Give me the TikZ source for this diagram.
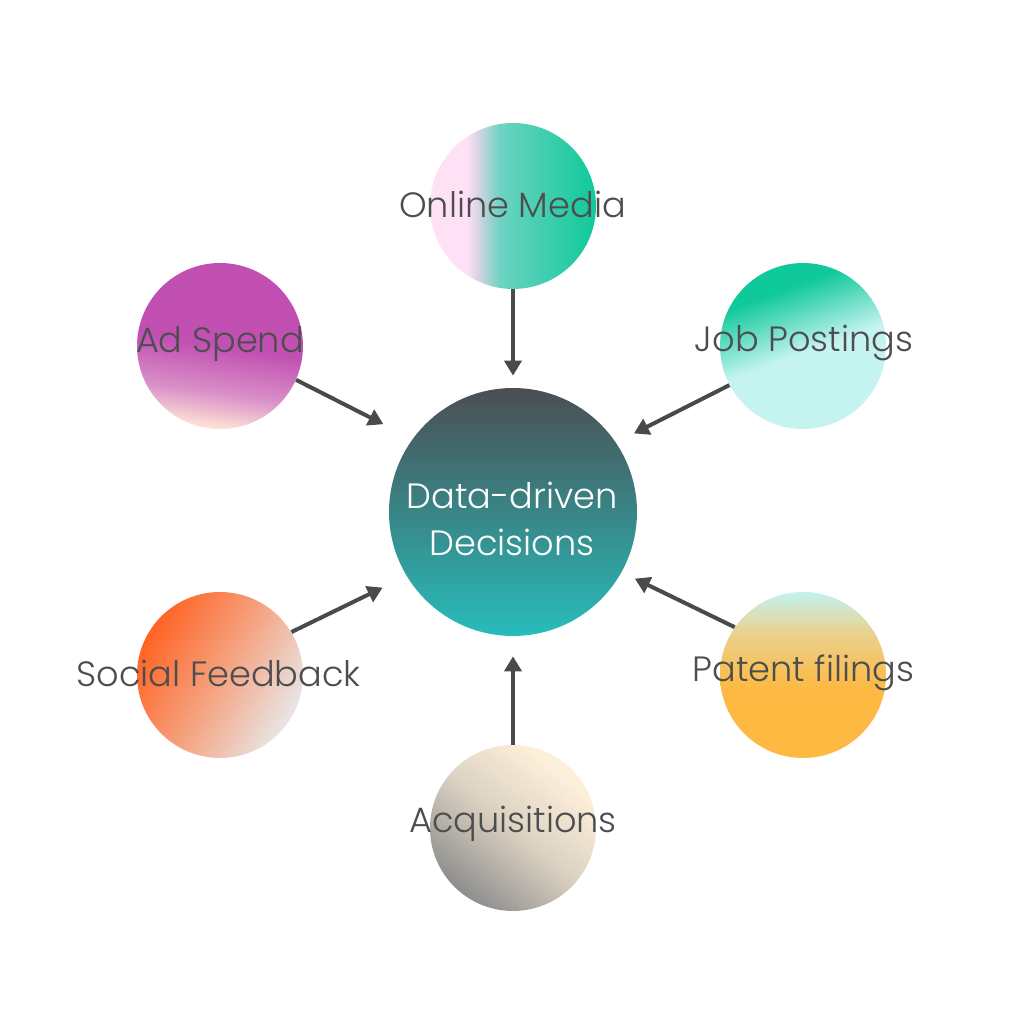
\documentclass[tikz,border=0pt]{standalone}
\usepackage{fontspec}
\setmainfont{Poppins}[UprightFont={* Light}]
\usetikzlibrary{arrows.meta}
\definecolor{txt}{HTML}{4D4D4F}
\definecolor{arrc}{HTML}{4A4A4C}
\definecolor{ddTop}{HTML}{4B4E52}
\definecolor{ddBot}{HTML}{27BDBB}
\definecolor{omPink}{HTML}{FFE1F5}
\definecolor{omMid}{HTML}{CFD3E0}
\definecolor{omTeal}{HTML}{6CD3C2}
\definecolor{omGreen}{HTML}{0FC99A}
\definecolor{adMag}{HTML}{C150B2}
\definecolor{adMid}{HTML}{D98EC7}
\definecolor{adPeach}{HTML}{FFE5D6}
\definecolor{jpGreen}{HTML}{10C99A}
\definecolor{jpLight}{HTML}{C4F3F0}
\definecolor{sfOr}{HTML}{FF6323}
\definecolor{sfMid}{HTML}{F5A27F}
\definecolor{sfGray}{HTML}{E8E6E6}
\definecolor{pfCyan}{HTML}{C2F2F0}
\definecolor{pfSand}{HTML}{EBD08A}
\definecolor{pfOr}{HTML}{FDB942}
\definecolor{acCream}{HTML}{FDF0DA}
\definecolor{acMid}{HTML}{DCD2C2}
\definecolor{acGray}{HTML}{8E8E8E}
\pgfdeclareverticalshading{ddshade}{100bp}{color(0bp)=(ddBot); color(25bp)=(ddBot); color(75bp)=(ddTop); color(100bp)=(ddTop)}
\pgfdeclarehorizontalshading{omshade}{100bp}{color(0bp)=(omPink); color(25bp)=(omPink); color(36bp)=(omPink); color(40bp)=(omMid); color(46bp)=(omTeal); color(75bp)=(omGreen); color(100bp)=(omGreen)}
\pgfdeclareverticalshading{adshade}{100bp}{color(0bp)=(adPeach); color(25bp)=(adPeach); color(36bp)=(adMid); color(50bp)=(adMag); color(75bp)=(adMag); color(100bp)=(adMag)}
\pgfdeclareverticalshading{jpshade}{100bp}{color(0bp)=(jpLight); color(25bp)=(jpLight); color(48bp)=(jpLight); color(68bp)=(jpGreen); color(75bp)=(jpGreen); color(100bp)=(jpGreen)}
\pgfdeclarehorizontalshading{sfshade}{100bp}{color(0bp)=(sfOr); color(25bp)=(sfOr); color(50bp)=(sfMid); color(75bp)=(sfGray); color(100bp)=(sfGray)}
\pgfdeclareverticalshading{pfshade}{100bp}{color(0bp)=(pfOr); color(25bp)=(pfOr); color(46bp)=(pfOr); color(62bp)=(pfSand); color(75bp)=(pfCyan); color(100bp)=(pfCyan)}
\pgfdeclareverticalshading{acshade}{100bp}{color(0bp)=(acGray); color(25bp)=(acGray); color(50bp)=(acMid); color(72bp)=(acCream); color(100bp)=(acCream)}
\tikzset{
  small/.style={circle, minimum size=3.32cm, inner sep=0pt, draw=none},
  big/.style={circle, minimum size=4.96cm, inner sep=0pt, draw=none},
  lbl/.style={anchor=base, text=txt, inner sep=0pt, font=\fontsize{20}{26.8}\selectfont},
  arr/.style={draw=arrc, line width=0.08cm, -{Triangle[length=0.3cm,width=0.34cm]}}
}
\begin{document}
\begin{tikzpicture}[x=0.02cm, y=0.02cm]
\useasboundingbox (0,0) rectangle (1024,1024);
\fill[white] (0,0) rectangle (1024,1024);
% circles
\node[big, shading=ddshade] (dd) at (513,512) {};
\node[small, shading=omshade] (om) at (513,818) {};
\node[small, shading=adshade, shading angle=-8] (ad) at (220,678) {};
\node[small, shading=jpshade, shading angle=20] (jp) at (803,678) {};
\node[small, shading=sfshade, shading angle=-30] (sf) at (220,349) {};
\node[small, shading=pfshade] (pf) at (803,349) {};
\node[small, shading=acshade, shading angle=-40] (ac) at (513,196) {};
% arrows
\draw[arr, shorten >=0.24cm] (om.south) -- (dd.north);
\draw[arr, shorten >=0.65cm] (ad.-24) -- (dd.144.4);
\draw[arr, shorten >=0.40cm] (jp.208) -- (dd.34.5);
\draw[arr, shorten >=0.53cm] (sf.31) -- (dd.211.6);
\draw[arr, shorten >=0.29cm] (pf.145.7) -- (dd.-29.3);
\draw[arr, shorten >=0.40cm] (ac.north) -- (dd.south);
% labels
\node[lbl] (omt) at (512.5,806) {Online Media};
\node[lbl] (adt) at (220,671) {Ad Spend};
\node[lbl] (jpt) at (804,672) {Job Postings};
\node[lbl] (sft) at (218.5,337) {Social Feedback};
\node[lbl] (pft) at (803.5,342) {Patent filings};
\node[lbl] (act) at (513,191) {Acquisitions};
\node[lbl, text=white, align=center] (ddt) at (512,468) {Data-driven\\Decisions};
\end{tikzpicture}
\end{document}
